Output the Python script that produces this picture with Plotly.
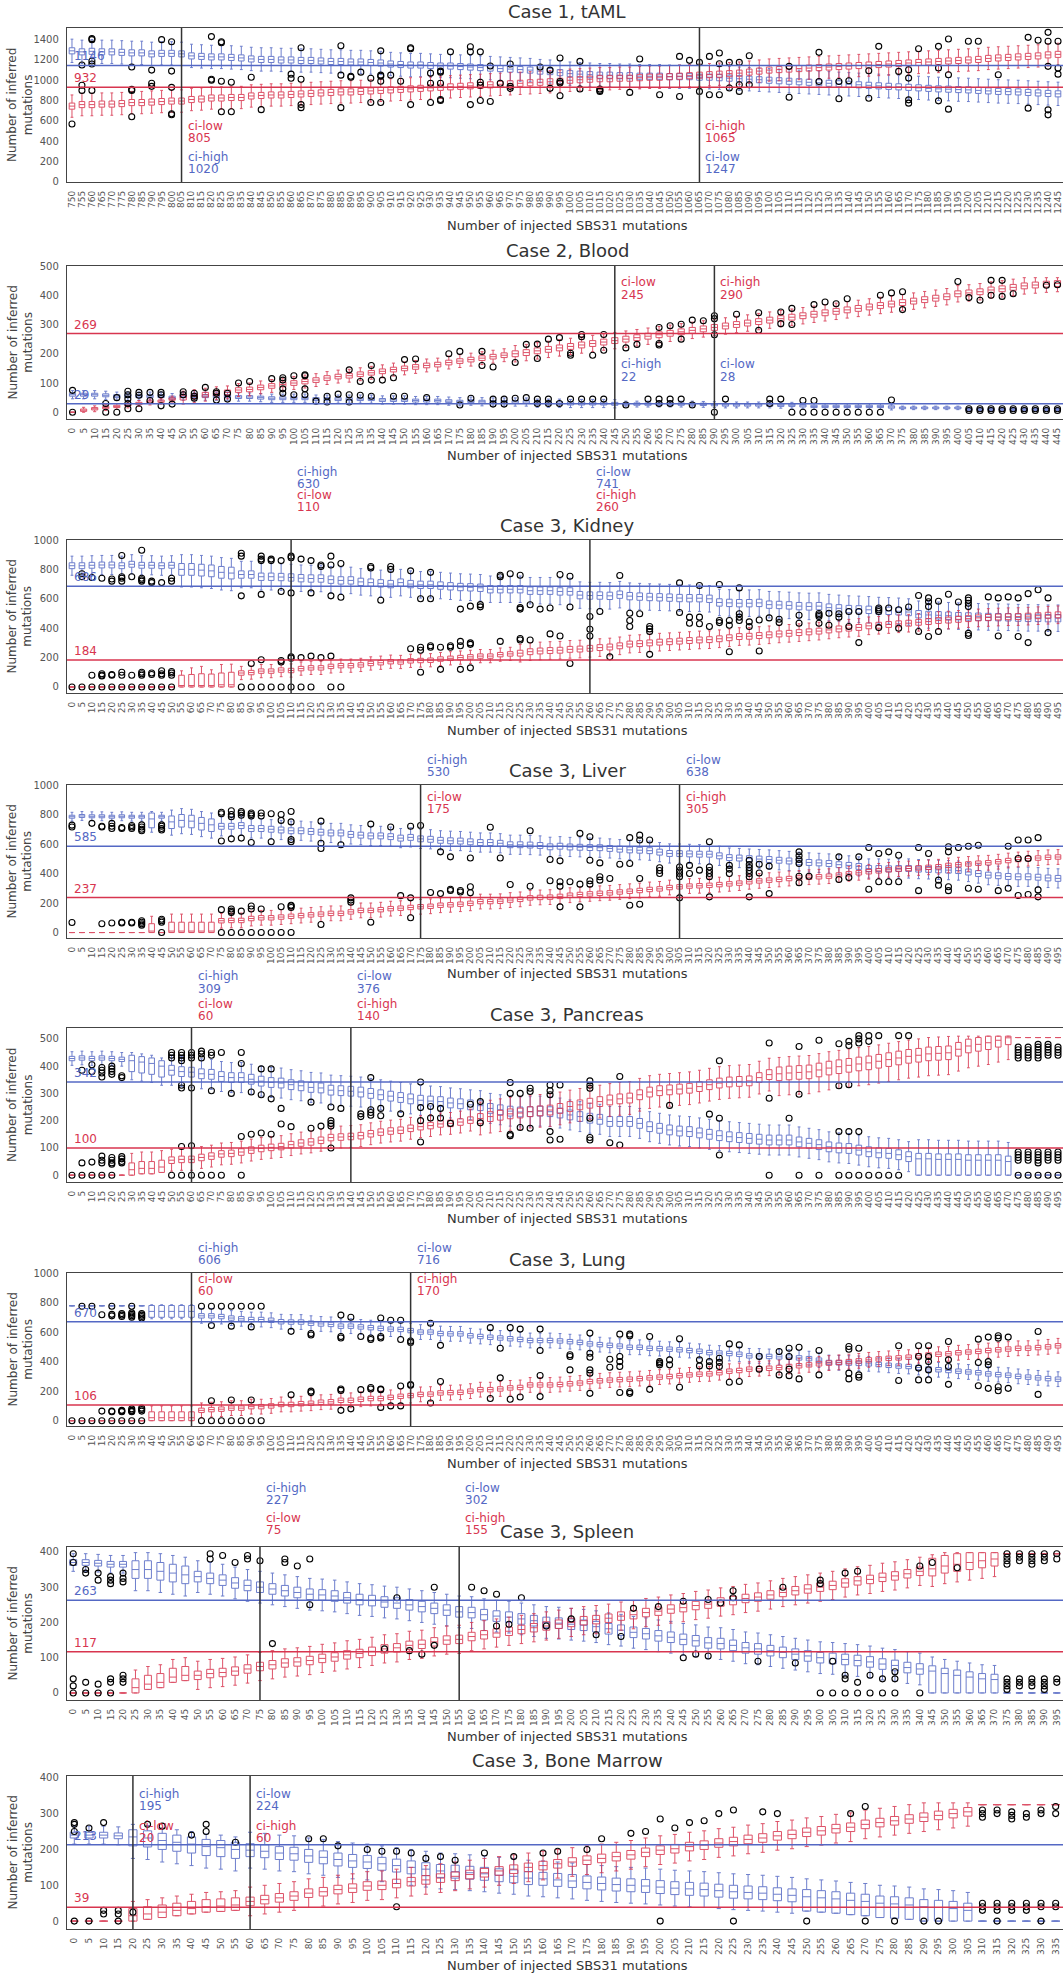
import plotly.graph_objects as go

# ---------------- DATA ----------------
TAML_X = list(range(750, 1250, 5))
TAML_BLUE_MED = [1290,1280,1285,1280,1280,1275,1270,1270,1260,1265,1265,
                 1260,1240,1235,1230,1230,1225,1220,1210,1205,1205,
                 1200,1200,1195,1195,1190,1185,1185,1180,1180,1175,
                 1170,1160,1155,1150,1150,1145,1140,1140,1135,1130,
                 1125,1120,1115,1110,1105,1100,1090,1085,1075,1065,
                 1060,1055,1050,1050,1045,1045,1040,1040,1040,1035,
                 1035,1035,1030,1030,1025,1020,1015,1010,1005,1000,
                 995,990,985,980,975,970,965,960,955,950,
                 945,940,935,930,925,920,915,912,908,905,
                 900,895,890,888,885,880,875,870,866]
TAML_RED_MED = [745,760,760,765,765,770,780,780,785,790,795,
                795,810,815,825,825,830,830,845,850,855,
                855,860,865,870,875,880,885,885,890,895,
                900,905,910,915,920,925,930,935,940,945,
                950,955,960,965,970,975,980,985,990,1000,
                1005,1010,1015,1015,1020,1020,1025,1030,1030,1035,
                1040,1045,1050,1055,1060,1065,1070,1080,1090,1100,
                1105,1110,1115,1120,1125,1130,1135,1140,1145,1150,
                1155,1160,1165,1170,1175,1180,1185,1190,1195,1200,
                1205,1215,1220,1225,1230,1235,1240,1250,1255]
TAML_BLUE_SPREAD = [[100, 30, 30, 115, 115]]
TAML_RED_SPREAD = [[100, 30, 30, 110, 110]]
TAML_OUT = [[750,569],[755,1150,950,900],[760,1410,1400,1190,1160,900],[780,1130,910,900,640],
            [790,1100,970,940],[795,1400],[800,1380,1090,930,670,660],[820,1430,1010,1000],
            [825,1380,1370,990,690],[830,980,690],[840,1030],[845,710],[860,1060,1020],
            [865,1320,1010,760,730],[885,1340,1050,730],[890,1040,1030],[895,1080],[900,1020,780],
            [905,1290,1050,1040,990,780],[910,1050],[915,990],[920,1320,1310,760],[930,1070,970,780],
            [935,1090,1080,970,810,800],[940,1280],[950,1330,1280,760],[955,1280,980,950,800],
            [960,1140,790],[965,970],[970,1160,940,920],[985,1130],[990,1100,920],[995,1219,988,972,847],
            [1005,1186,913],[1015,913,900,890],[1030,880],[1035,1209],[1045,857],[1055,1235,840],
            [1060,1196],[1065,1176,890],[1070,1235,857],[1075,1268,1163,857],[1080,1176,923],
            [1085,1176,956,890],[1090,1242,956],[1110,1137,833],[1125,1275,988],[1135,988,817],
            [1140,995],[1150,1094,823],[1155,1334],[1165,1087],[1170,1104,1021,807,774],[1175,1311],
            [1185,1334,1120,797],[1190,1407,1054,715],[1200,1384],[1205,1384],[1215,1054],
            [1230,1423,725],[1235,1394],[1240,1472,1384,1137,708,659],[1245,1384,1120,1060]]
TAML_HLINES = [1146, 932]          # blue, red
# [x, red line 1, red line 2, blue line 1, blue line 2]
TAML_CI = [[805, "ci-low", "805", "ci-high", "1020"], [1065, "ci-high", "1065", "ci-low", "1247"]]

BLOOD_X = list(range(0, 450, 5))
BLOOD_RED_MED = [0,7,12,16,20,25,30,35,38,45, 50,55,60,65,68,76,78,85,90,95,
                 100,105,110,117,122,125,130,135,140,146, 150,155,160,163,170,175,180,185,190,195,
                 200,204,210,215,220,225,230,235,240,245, 250,255,260,265,270,275,280,285,290,295,
                 300,305,310,315,320,325,330,335,340,345, 350,355,360,365,370,375,380,385,390,395,
                 405,408,412,418,422,427,432,435,438,440]
BLOOD_BLUE_MED = [60,60,60,58,55,55,55,55,55,50, 55,55,55,55,55,52,52,50,48,48,
                  48,48,45,45,45,45,45,45,42,42, 42,40,40,40,38,36,38,36,35,35,
                  35,35,31,31,31,30,30,30,30,29, 28,28,28,28,28,28,28,27,26,25,
                  25,25,25,25,24,24,22,20,20,20, 20,20,20,20,18,15,15,15,15,15,
                  15,10,10,10,10,10,10,10,10,10]
BLOOD_RED_SPREAD = [[1,0,0,0,0],[9,4,4,10,10],[30,8,8,22,22],[50,10,10,28,28]]
BLOOD_BLUE_SPREAD = [[50,5,5,14,14],[25,4,4,10,10],[15,3,3,6,6]]
BLOOD_OUT = [[0,75,0],[15,30,0],[20,50,0],[25,72,60,45,30,12],[30,68,58,12],[35,68,40],[40,68,60,22],
             [45,28],[50,70,60],[55,65,55,48],[60,85],[65,70,65,42],[70,65,45],[75,100],[80,105],[90,115],
             [95,118,110,80,65],[100,125,60],[105,128,125,80,60],[110,38],[115,55,35],[120,62],
             [125,145,60,35],[130,105,58],[135,160,110,55],[140,110],[145,118,55],[150,180,55],[155,182],
             [160,50],[170,200],[175,208,25],[180,48],[185,208,160],[190,155,45,28],[195,45,28],
             [200,170,48],[205,232,50],[210,233,184,45,30],[215,250,45,30],[220,255,30],[225,202,195,45],
             [230,266,258,45],[235,195,45],[240,266,212,45],[250,220,25],[255,232],[260,45],
             [265,290,235,230,45,30],[270,296,45,30],[275,301,250,45],[280,315,25],[285,313],
             [290,330,320,265,0],[295,45],[300,335],[310,340,280],[315,45,30],[320,343,303,45],
             [325,355,300,0],[330,40,0],[335,368,40,0],[340,377,0],[345,371,0],[350,388,0],[355,0],
             [360,0],[365,400,0],[370,408,42],[375,412,351],[400,447],[405,392,12,6],[410,383,12,6],
             [415,451,400,12,6],[420,451,396,12,6],[425,405,12,6],[430,12,6],[435,12,6],[440,434,12,6],
             [445,436,12,6]]
BLOOD_HLINES = [29, 269]
BLOOD_CI = [[245, "ci-low", "245", "ci-high", "22"], [290, "ci-high", "290", "ci-low", "28"]]

KIDNEY_X = list(range(0, 500, 5))
KIDNEY_BLUE_MED = [825,825,828,830,830,825,835,828,828,825,
                   828,800,800,795,790,780,775,765,765,750,
                   750,748,745,740,738,738,730,725,725,715,
                   710,705,700,710,700,695,695,690,685,680,
                   678,675,665,665,665,665,655,655,655,650,
                   650,625,622,622,620,628,618,615,612,610,
                   608,605,604,604,600,575,572,570,570,572,
                   560,558,555,550,548,550,540,535,530,528,
                   525,520,518,515,510,495,490,488,485,482,
                   480,478,476,475,474,472,470,470,468,468]
KIDNEY_RED_MED = [0,0,0,0,0,0,0,0,0,0,
                  0,10,10,10,10,15,15,95,98,108,
                  108,115,112,125,130,130,140,145,145,150,
                  160,165,172,170,178,180,182,190,195,200,
                  205,210,210,220,225,230,240,245,248,250,
                  256,258,263,268,272,280,292,295,300,305,
                  308,312,316,320,322,328,335,343,345,350,
                  355,361,365,370,375,380,388,395,400,405,
                  416,420,425,430,434,440,445,452,455,460,
                  465,470,473,476,478,479,482,485,488,491]
KIDNEY_BLUE_SPREAD = [[11,20,20,65,65],[6,40,40,120,100],[83,25,25,90,90]]
KIDNEY_RED_SPREAD = [[11,0,0,0,0],[1,10,70,10,100],[1,10,75,10,120],[1,10,80,10,130],[1,10,78,10,107],
                     [1,15,80,15,138],[1,15,85,15,140],[28,15,15,45,45],[55,20,20,60,60]]
KIDNEY_OUT = [[0,0],[5,770,750,0],[10,745,80,0],[15,740,90,80,75,0],[20,735,720,85,80,0],
              [25,895,750,740,720,100,80,0],[30,750,80,0],[35,930,740,730,720,100,90,80,0],
              [40,720,710,95,85,0],[45,710,110,90,80,0],[50,740,720,105,95,80,0],[85,910,890,620,0],
              [90,160,0],[95,890,870,860,630,185,0],[100,870,860,0],[105,860,650,180,170,0],
              [110,890,880,640,205,195,0],[115,870,200,0],[120,860,640,210,0],[125,830,820,200],
              [130,890,830,620,210,0],[135,840,610,0],[150,820,810],[155,590],[160,820,800],
              [170,790,260],[175,600,270,250,100],[180,780,600,280,270],[185,270,120],[190,280,270],
              [195,530,310,280,120],[200,550,300,290,130],[205,560,545],[215,760,750,310],[220,770],
              [225,760,540,530,330,320],[230,559,320],[235,530],[240,537,361],[245,765,347],
              [250,753,544,160],[260,479,393,347],[265,514],[270,205],[275,758],[280,502,452,411],
              [285,498],[290,411,395,377,222],[305,708,507],[310,475,434],[315,690,475,430],[320,411],
              [325,697,452,438],[330,452,420,240],[335,674,498,475,452],[340,443,411],[345,456,245],
              [350,470],[355,461,438],[365,488,434],[375,500,490,479,434],[380,502,420],[385,498,475],
              [390,514,411],[395,514,302],[405,537,525,514,404],[410,537],[415,525,400],[420,544],
              [425,622,377],[430,606,580,548,343],[435,583,377],[440,631],[445,578],
              [450,606,590,570,548,365,350],[460,613],[465,606,347],[470,613],[475,606,343],
              [480,635,302],[485,662],[490,606,370]]
KIDNEY_HLINES = [686, 184]
KIDNEY_CI = [[110, "ci-low", "110", "ci-high", "630"], [260, "ci-high", "260", "ci-low", "741"]]

LIVER_X = list(range(0, 500, 5))
LIVER_BLUE_MED = [785,790,788,788,785,788,785,785,770,785,
                  750,760,755,740,730,720,720,725,705,705,
                  700,695,690,690,685,680,675,675,665,660,
                  655,655,650,640,645,635,632,625,622,620,
                  615,610,610,605,595,595,593,590,581,585,
                  580,578,576,575,570,565,560,558,555,545,
                  536,535,533,531,531,520,508,505,501,498,
                  495,490,485,480,475,472,468,460,455,448,
                  434,434,432,434,434,430,428,425,423,420,
                  410,400,389,385,380,378,378,375,370,367]
LIVER_RED_MED = [0,0,0,0,0,0,0,0,10,0,
                 10,10,10,10,10,80,82,82,95,100,
                 100,105,110,115,120,125,130,130,140,150,
                 150,155,162,165,170,175,178,185,188,192,
                 198,210,210,212,220,225,235,238,240,245,
                 253,258,262,266,269,275,280,285,292,296,
                 305,310,315,317,320,325,330,335,344,350,
                 355,360,366,370,375,378,382,390,398,405,
                 412,418,425,430,434,438,442,446,455,460,
                 465,470,473,480,488,495,501,505,510,512]
LIVER_BLUE_SPREAD = [[8,10,10,30,30],[1,60,40,90,50],[1,10,10,30,30],[5,45,40,90,80],[85,20,20,65,65]]
LIVER_RED_SPREAD = [[8,0,0,0,0],[1,10,50,10,100],[1,0,0,0,0],[5,10,60,10,115],[85,15,15,50,50]]
LIVER_OUT = [[0,728,715,68],[10,740],[15,720,715,60],[20,740,720,705,65],[25,712,705,70,65],
             [30,725,715,705,70,65],[35,730,715,700,690,80,70,60,50],[45,730,720,705,695,90,80,70,0],
             [75,815,805,620,155,0],[80,825,800,785,635,160,145,135,0],[85,820,810,795,640,145,0],
             [90,810,800,790,610,180,160,0],[95,810,790,160,0],[100,805,615,0],[105,800,760,175,0],
             [110,820,750,630,615,185,180,170,0],[125,755,605,570,55],[135,595],[140,235,220,205],
             [150,735,70],[160,715],[165,250],[170,720,235,100],[175,725],[180,271],[185,547,264],
             [190,513,293,285],[195,285,275],[200,505,310,270],[210,714],[215,505],[220,326],
             [230,690,314],[240,495,351],[245,486,344,314,174],[250,344],[255,672,328,174],
             [260,649,490,351,328],[265,472,378,355],[270,366],[275,463],[280,643,468,185],
             [285,660,627,366,192],[290,627],[295,439,420,400],[305,444,420,400,378,235],[310,455,400],
             [315,423],[320,615,444,420,400,378,242],[330,455,430,400],[340,490,460,440,420,400,378,242],
             [345,463,404],[350,450,264],[365,547,520,495,468,382,337],[370,382],[385,513,359],[390,373],
             [395,513],[400,576,293],[405,536,344],[410,547,344],[415,524,344],[425,576,284],[430,536],
             [435,355,321],[440,581,547,310,284],[445,576],[450,585,300],[455,592,293],[465,284],
             [470,585,300],[475,627,502,251],[480,627,502,258],[485,643,289,242]]
LIVER_HLINES = [585, 237]
LIVER_CI = [[175, "ci-low", "175", "ci-high", "530"], [305, "ci-high", "305", "ci-low", "638"]]

PANCREAS_X = list(range(0, 500, 5))
PANCREAS_BLUE_MED = [428,430,428,430,428,425,420,415,410,400,
                     385,380,378,372,370,362,358,358,352,345,
                     340,338,332,328,322,320,312,310,308,305,
                     300,295,290,285,280,275,272,270,265,262,
                     258,255,245,240,235,232,233,235,233,228,
                     221,215,209,205,197,197,197,190,178,172,
                     166,162,160,155,150,145,141,138,135,132,
                     129,129,129,122,117,112,104,100,98,92,
                     86,82,80,75,68,60,60,58,58,58,
                     55,55,55,55,50,0,0,0,0,0]
PANCREAS_RED_MED = [0,0,0,0,0,0,20,25,25,30,
                    55,58,58,65,70,78,80,85,92,98,
                    102,105,112,118,122,128,138,140,142,145,
                    152,158,162,165,172,178,182,188,190,195,
                    202,208,215,220,225,228,233,236,239,245,
                    252,258,264,270,276,280,283,295,305,310,
                    313,316,319,325,332,338,342,344,346,358,
                    369,372,375,377,379,386,393,398,403,408,
                    412,418,424,430,436,440,445,447,449,462,
                    474,480,486,495,504,505,505,505,505,505]
PANCREAS_BLUE_SPREAD = [[6,8,8,25,25],[4,40,20,70,30],[75,18,18,55,55],[10,60,20,60,70],[5,0,0,0,0]]
PANCREAS_RED_SPREAD = [[6,0,0,0,0],[4,20,25,20,60],[31,12,12,40,40],[30,18,18,60,60],[24,25,25,80,60],[5,0,0,0,0]]
PANCREAS_OUT = [[0,0],[5,385,45,0],[10,405,380,48,0],[15,395,385,375,360,70,55,45,0],
                [20,400,390,380,370,65,55,45,40,0],[25,365,358,68,60,50,45],[50,450,440,430,0],
                [55,450,440,430,420,330,320,105,0],[60,450,440,430,320,108,0],[65,455,445,430,0],
                [70,450,440,310,0],[75,450,0],[80,300],[85,450,410,142,0],[90,305,150],[95,390,295,155],
                [100,390,280,150],[105,245,188],[110,178],[120,268,172],[125,180],[130,250,200,190,180,100],
                [135,245],[145,225,215],[150,358,240,230,220],[155,245,218],[165,225],[175,342,248,200,122],
                [180,252,210],[185,245,210],[190,190],[200,260],[205,270,192],[220,340,300,150,145],
                [225,300,175],[230,319,307,172],[240,331,310,295,160,129],[245,331,132],
                [260,346,330,319,209,138,129],[270,119],[275,362,111],[300,256],[320,224],[325,420,209,74],
                [350,485,282,0],[360,209],[365,472,297,0],[375,495,0],[385,482,328,160,0],
                [390,491,476,332,160,0],[395,512,500,485,160,0],[400,512,491,0],[405,512,0],[410,0],
                [415,512,0],[420,512],[475,470,460,450,440,430,85,75,65,55,0],
                [480,470,460,450,440,430,85,75,65,55,0],[485,480,470,460,450,440,430,85,75,65,55,45,0],
                [490,480,470,460,450,440,85,75,65,55,0],[495,470,460,450,440,85,75,65,55,0]]
PANCREAS_HLINES = [342, 100]
PANCREAS_CI = [[60, "ci-low", "60", "ci-high", "309"], [140, "ci-high", "140", "ci-low", "376"]]

LUNG_X = list(range(0, 500, 5))
LUNG_BLUE_MED = [778,778,778,778,778,778,778,778,740,740,
                 740,740,740,710,710,705,695,690,685,685,
                 680,670,668,668,660,655,652,640,640,635,
                 630,625,620,618,610,600,600,590,588,588,
                 575,570,565,560,555,550,543,543,543,540,
                 535,530,520,515,510,505,497,497,490,488,
                 484,480,475,470,461,458,455,450,439,438,
                 435,432,430,425,420,410,394,392,390,388,
                 385,380,375,370,367,360,350,345,340,335,
                 330,325,317,312,308,300,295,290,285,281]
LUNG_RED_MED = [0,0,0,0,0,0,0,0,20,20,
                20,20,20,70,75,78,85,85,95,95,
                100,110,110,115,118,125,128,138,138,145,
                150,150,158,165,170,178,180,188,190,192,
                200,210,210,215,222,225,242,242,242,245,
                250,255,265,270,275,278,281,285,290,295,
                299,305,310,315,317,325,335,340,349,352,
                355,360,367,372,378,385,390,395,400,405,
                412,418,422,425,430,440,445,450,453,460,
                465,469,475,480,485,490,491,495,500,507]
LUNG_BLUE_SPREAD = [[8,0,0,0,0],[5,40,40,50,45],[87,15,15,50,50]]
LUNG_RED_SPREAD = [[8,0,0,0,0],[5,20,40,20,80],[87,15,15,50,50]]
LUNG_OUT = [[0,0],[5,775,0],[10,775,0],[15,717,65,0],[20,775,720,710,65,60,0],[25,725,715,705,70,65,60,0],
            [30,775,730,720,710,700,80,70,65,60,0],[35,725,715,705,695,85,75,65,0],[65,775,0],
            [70,775,645,135,0],[75,775,0],[80,775,640,140,0],[85,775,0],[90,775,635,140,0],[95,775,0],
            [110,605,175],[120,590,580,200,190],[135,715,570,560,215,205,70],[140,700,80],[145,570,210],
            [150,560,550,225,215],[155,695,570,560,215,210,90],[160,680,100],[165,680,550,235,100],
            [170,540,530,245,240],[180,660,120],[185,510,265],[210,630,150],[215,490,290],[220,630,145],
            [225,620,160],[235,620,475,306,163],[250,446,435,344],[260,593,457,430,344,322,185],
            [270,416,362],[275,586,435,400,367,191],[280,586,575,196,185],[290,570,212],[295,400,390,378],
            [300,412,378],[305,555,226],[315,412,371],[320,400,371],[325,423,395,367],[330,520,260],
            [335,513,265],[345,435,349],[355,468,310],[360,490,435,349,305],[365,497,283],[375,475,310],
            [390,502,484,322,283],[395,490,310,294],[415,507,272],[425,507,435,356,276],
            [430,507,435,400,344,276],[440,536,412,367,246],[455,552,394,237],[460,566,400,378,219],
            [465,575,559,230,203],[470,566,219],[485,604,178]]
LUNG_HLINES = [670, 106]
LUNG_CI = [[60, "ci-low", "60", "ci-high", "606"], [170, "ci-high", "170", "ci-low", "716"]]

SPLEEN_X = list(range(0, 400, 5))
SPLEEN_BLUE_MED = [370,370,368,365,365,350,350,345,340,335,
                   330,325,320,312,305,300,295,290,285,280,
                   278,275,270,265,262,258,255,250,245,240,
                   235,230,228,222,218,215,210,205,200,198,
                   195,192,188,182,178,172,168,162,158,152,
                   148,142,140,135,128,125,120,115,110,105,
                   100,98,95,92,88,82,78,72,68,62,
                   55,50,45,40,38,0,0,0,0,0]
SPLEEN_RED_MED = [0,0,0,0,0,15,25,30,45,50,
                  50,55,58,62,68,75,80,85,88,92,
                  98,102,108,112,118,125,128,135,138,145,
                  150,152,160,165,170,175,180,185,190,195,
                  200,205,208,212,218,222,228,232,238,242,
                  248,252,258,262,268,272,278,285,290,295,
                  300,305,312,318,322,328,332,338,345,352,
                  360,365,370,375,380,395,395,395,395,395]
SPLEEN_BLUE_SPREAD = [[5,8,8,25,25],[5,25,25,60,50],[59,15,15,45,45],[6,62,15,62,40],[5,0,0,0,0]]
SPLEEN_RED_SPREAD = [[5,0,0,0,0],[5,15,25,15,50],[59,12,12,40,40],[6,20,30,50,40],[5,0,0,0,0]]
SPLEEN_OUT = [[0,395,370,40,20,0],[5,350,340,30,0],[10,340,320,25,0],[15,330,320,310,40,30,0],
              [20,340,325,315,50,40,30],[55,395,380],[60,390],[65,370],[70,390,380],[75,375],[80,140],
              [85,380,370],[90,360],[95,380,250],[125,125],[130,270],[135,120],[140,110],[145,300,135],
              [160,300],[165,290],[170,280,190],[175,195],[180,270],[190,190],[200,210],[210,165],
              [220,160],[225,240],[235,245],[245,260,100],[250,110],[255,265,105],[260,255],[265,290,270],
              [275,90],[285,300],[290,85],[300,320,310,0],[305,90,0],[310,340,50,40,0],[315,345,30,0],
              [320,50,0],[325,40,0],[330,60,40,0],[340,360,0],[345,370],[355,355],
              [375,395,385,375,365,40,30,20,10],[380,395,385,375,40,30,20],[385,395,385,375,365,40,30,20],
              [390,395,385,375,40,30,20,10],[395,395,380,40,30]]
SPLEEN_HLINES = [263, 117]
SPLEEN_CI = [[75, "ci-low", "75", "ci-high", "227"], [155, "ci-high", "155", "ci-low", "302"]]

BM_X = list(range(0, 340, 5))
BM_BLUE_MED = [240,240,240,238,235,232,225,220,215,208,
               205,200,198,195,190,188,182,178,172,168,
               165,160,155,150,145,140,138,135,132,128,
               125,120,118,115,112,108,105,102,100,98,
               95,92,90,88,85,82,80,78,75,72,
               68,65,62,58,55,50,48,45,40,38,
               35,30,0,0,0,0,0,0]
BM_RED_MED = [0,0,0,0,15,20,25,30,35,40,
              42,45,55,60,65,70,78,82,88,92,
              98,100,105,110,115,120,125,130,135,140,
              145,150,155,160,165,170,175,180,185,192,
              198,202,208,212,218,222,228,232,238,242,
              248,252,258,262,270,275,280,285,290,295,
              300,305,325,325,325,325,325,325]
BM_BLUE_SPREAD = [[4,8,8,25,25],[8,25,20,60,35],[38,18,18,50,50],[12,40,20,40,50],[6,0,0,0,0]]
BM_RED_SPREAD = [[4,0,0,0,0],[8,15,20,15,40],[50,12,12,40,40],[6,0,0,0,0]]
BM_OUT = [[0,275,270,250,0],[5,260,0],[10,275,30,20],[15,30,20,0],[20,25],[25,270],[30,265],[40,240],
          [45,270,250],[55,220],[80,230],[85,230],[90,210],[100,200],[105,195],[110,195,40],[115,190],
          [120,175],[125,180],[130,170],[140,190],[150,180],[160,190],[165,195],[175,200],[180,230],
          [190,245],[195,250],[200,285,0],[205,260],[210,275],[215,280],[220,300],[225,310,0],[235,305],
          [240,300],[250,0],[265,300],[270,320,0],[280,0],[290,0],[295,0],[310,310,300,290,50,40,30],
          [315,310,300,50,40,30,0],[320,305,295,285,50,40,30],[325,300,290,50,40,30],[330,310,300,50,40,0],
          [335,320,300,50,40]]
BM_HLINES = [213, 39]
BM_CI = [[20, "ci-low", "20", "ci-high", "195"], [60, "ci-high", "60", "ci-low", "224"]]

TITLES = ["Case 1, tAML", "Case 2, Blood", "Case 3, Kidney", "Case 3, Liver",
          "Case 3, Pancreas", "Case 3, Lung", "Case 3, Spleen", "Case 3, Bone Marrow"]

# ---------------- STYLE / LAYOUT ----------------
W, H = 1063, 1974
BLUE = "#5468c4"
RED = "#d8354f"
FONT = "DejaVu Sans"
AX_LEFT = 67

# per panel: (top px, bottom px, title px, xtitle px, yrange, ytick step, cap,
#             upper block px lines, lower block px lines, upper block is red?)
GEOM = [
    (28, 182, 12, 225, [-3, 1515], 200, 5000, (126, 138), (157, 169), True),
    (266, 419, 250, 455, [-23, 500], 100, 460, (282, 295), (364, 377), True),
    (540, 693, 525, 730, [-41, 1000], 200, 1000, (472, 484), (495, 507), False),
    (785, 938, 770, 973, [-37, 1000], 200, 1000, (760, 772), (797, 809), False),
    (1028, 1182, 1014, 1218, [-25, 540], 100, 510, (976, 989), (1004, 1016), False),
    (1273, 1426, 1259, 1463, [-36, 1000], 200, 1000, (1248, 1260), (1279, 1291), False),
    (1547, 1700, 1531, 1736, [-20, 414], 100, 398, (1488, 1500), (1518, 1530), False),
    (1776, 1929, 1760, 1965, [-22, 405], 100, 330, (1794, 1806), (1826, 1838), False),
]

PANELS = [
    (TAML_X, TAML_BLUE_MED, TAML_BLUE_SPREAD, TAML_RED_MED, TAML_RED_SPREAD, TAML_OUT, TAML_HLINES, TAML_CI),
    (BLOOD_X, BLOOD_BLUE_MED, BLOOD_BLUE_SPREAD, BLOOD_RED_MED, BLOOD_RED_SPREAD, BLOOD_OUT, BLOOD_HLINES, BLOOD_CI),
    (KIDNEY_X, KIDNEY_BLUE_MED, KIDNEY_BLUE_SPREAD, KIDNEY_RED_MED, KIDNEY_RED_SPREAD, KIDNEY_OUT, KIDNEY_HLINES, KIDNEY_CI),
    (LIVER_X, LIVER_BLUE_MED, LIVER_BLUE_SPREAD, LIVER_RED_MED, LIVER_RED_SPREAD, LIVER_OUT, LIVER_HLINES, LIVER_CI),
    (PANCREAS_X, PANCREAS_BLUE_MED, PANCREAS_BLUE_SPREAD, PANCREAS_RED_MED, PANCREAS_RED_SPREAD, PANCREAS_OUT, PANCREAS_HLINES, PANCREAS_CI),
    (LUNG_X, LUNG_BLUE_MED, LUNG_BLUE_SPREAD, LUNG_RED_MED, LUNG_RED_SPREAD, LUNG_OUT, LUNG_HLINES, LUNG_CI),
    (SPLEEN_X, SPLEEN_BLUE_MED, SPLEEN_BLUE_SPREAD, SPLEEN_RED_MED, SPLEEN_RED_SPREAD, SPLEEN_OUT, SPLEEN_HLINES, SPLEEN_CI),
    (BM_X, BM_BLUE_MED, BM_BLUE_SPREAD, BM_RED_MED, BM_RED_SPREAD, BM_OUT, BM_HLINES, BM_CI),
]


def stats(med, spread, cap):
    q1, q3, lo, hi = [], [], [], []
    k = 0
    for n, dq1, dq3, dlo, dhi in spread:
        for _ in range(n):
            m = med[k]
            q1.append(max(0, m - dq1))
            q3.append(min(cap, m + dq3))
            lo.append(max(0, m - max(dlo, dq1)))
            hi.append(min(cap, m + max(dhi, dq3)))
            k += 1
    return q1, q3, lo, hi


def py(px):
    return 1 - px / H


fig = go.Figure()
shapes, annotations = [], []
layout_axes = {}

for i, (panel, geom) in enumerate(zip(PANELS, GEOM), start=1):
    xs, bmed, bspr, rmed, rspr, outs, hl, ci = panel
    top, bot, tpx, xtpx, yr, ystep, cap, up_blk, lo_blk, up_red = geom
    xa = f"x{i}" if i > 1 else "x"
    ya = f"y{i}" if i > 1 else "y"
    xkey = f"xaxis{i}" if i > 1 else "xaxis"
    ykey = f"yaxis{i}" if i > 1 else "yaxis"

    for med, spr, col in ((bmed, bspr, BLUE), (rmed, rspr, RED)):
        q1, q3, lo, hi = stats(med, spr, cap)
        fig.add_trace(go.Box(
            x=xs, q1=q1, median=med, q3=q3, lowerfence=lo, upperfence=hi,
            xaxis=xa, yaxis=ya, width=2.8, whiskerwidth=0.5,
            line=dict(color=col, width=1), fillcolor="rgba(0,0,0,0)",
            opacity=0.85, showlegend=False, hoverinfo="skip"))

    ox, oy = [], []
    for row in outs:
        for v in row[1:]:
            ox.append(row[0]); oy.append(v)
    fig.add_trace(go.Scatter(
        x=ox, y=oy, mode="markers", xaxis=xa, yaxis=ya, showlegend=False, hoverinfo="skip",
        marker=dict(symbol="circle-open", color="black", size=6, line=dict(width=1.1))))

    step = xs[1] - xs[0]
    layout_axes[xkey] = dict(
        domain=[AX_LEFT / W, 1.0], anchor=ya, range=[xs[0] - step / 2, xs[-1] + step / 2],
        tickmode="array", tickvals=xs, ticktext=[str(v) for v in xs], tickangle=-90,
        tickfont=dict(size=9, color="#555", family=FONT), ticks="outside", ticklen=4,
        tickcolor="rgba(0,0,0,0)", showgrid=False, zeroline=False, showline=True, mirror=True,
        linecolor="#444", linewidth=1.3, automargin=False)
    layout_axes[ykey] = dict(
        domain=[py(bot), py(top)], anchor=xa, range=yr,
        tickmode="array", tickvals=list(range(0, int(yr[1]) + 1, ystep)),
        tickfont=dict(size=10, color="#555", family=FONT), ticks="outside", ticklen=5,
        tickcolor="rgba(0,0,0,0)", showgrid=False, zeroline=False, showline=True, mirror=True,
        linecolor="#444", linewidth=1.3, automargin=False)

    # horizontal reference lines with labels
    for val, col in ((hl[0], BLUE), (hl[1], RED)):
        shapes.append(dict(type="line", xref=f"{xa} domain", x0=0, x1=1, yref=ya, y0=val, y1=val,
                           line=dict(color=col, width=1.5), layer="above"))
        annotations.append(dict(xref="paper", x=72 / W, yref=ya, y=val, text=str(val),
                                showarrow=False, xanchor="left", yanchor="bottom", yshift=0,
                                font=dict(size=12, color=col, family=FONT)))

    # confidence interval vertical lines with labels
    for xv, r1, r2, b1, b2 in ci:
        shapes.append(dict(type="line", xref=xa, x0=xv, x1=xv, yref=f"{ya} domain", y0=0, y1=1,
                           line=dict(color="#333", width=1.5), layer="above"))
        red_blk, blue_blk = (up_blk, lo_blk) if up_red else (lo_blk, up_blk)
        for txt, pyv, col in ((r1, red_blk[0], RED), (r2, red_blk[1], RED),
                              (b1, blue_blk[0], BLUE), (b2, blue_blk[1], BLUE)):
            annotations.append(dict(xref=xa, x=xv, yref="paper", y=py(pyv), text=txt,
                                    showarrow=False, xanchor="left", yanchor="middle", xshift=4,
                                    font=dict(size=12, color=col, family=FONT)))

    # titles
    mid = (AX_LEFT + 1067) / 2 / W
    annotations.append(dict(xref="paper", x=mid, yref="paper", y=py(tpx), text=TITLES[i - 1],
                            showarrow=False, xanchor="center", yanchor="middle",
                            font=dict(size=18, color="#333", family=FONT)))
    annotations.append(dict(xref="paper", x=mid, yref="paper", y=py(xtpx),
                            text="Number of injected SBS31 mutations", showarrow=False,
                            xanchor="center", yanchor="middle",
                            font=dict(size=13, color="#333", family=FONT)))
    annotations.append(dict(xref="paper", x=20 / W, yref="paper", y=py((top + bot) / 2),
                            text="Number of inferred<br>mutations", showarrow=False, textangle=-90,
                            xanchor="center", yanchor="middle",
                            font=dict(size=12, color="#444", family=FONT)))

fig.update_layout(
    width=W, height=H, margin=dict(l=0, r=0, t=0, b=0),
    paper_bgcolor="white", plot_bgcolor="white", boxmode="overlay",
    font=dict(family=FONT), shapes=shapes, annotations=annotations, **layout_axes)

fig.write_html("out.html", config={"displayModeBar": False},
               post_script="document.body.style.margin='0px';")
